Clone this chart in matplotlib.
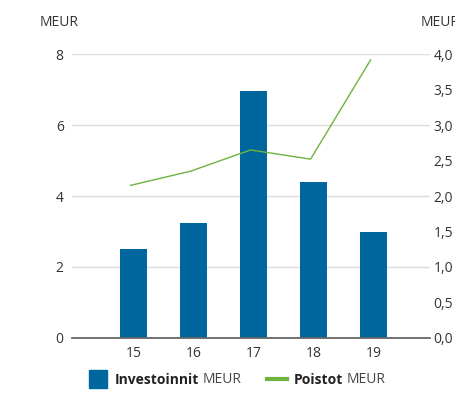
import matplotlib
matplotlib.use("Agg")
import matplotlib.pyplot as plt
from matplotlib.patches import Rectangle
from matplotlib.lines import Line2D
import numpy as np

years = ["15", "16", "17", "18", "19"]
investoinnit = [2.51, 3.25, 6.97, 4.40, 2.97]
poistot = [2.15, 2.35, 2.65, 2.52, 3.92]
left_ticks = [0, 2, 4, 6, 8]
right_ticks = [0.0, 0.5, 1.0, 1.5, 2.0, 2.5, 3.0, 3.5, 4.0]
right_labels = ["0,0", "0,5", "1,0", "1,5", "2,0", "2,5", "3,0", "3,5", "4,0"]
unit = "MEUR"
series_names = ["Investoinnit", "Poistot"]

BLUE = "#00679e"
GREEN = "#6cb33f"
TXT = "#333333"

plt.rcParams['font.family'] = ['Open Sans', 'DejaVu Sans']

W, H = 455, 400
fig = plt.figure(figsize=(W / 100, H / 100), dpi=100)
ax = fig.add_axes([72 / W, 1 - 337.7 / H, (430 - 72) / W, (337.7 - 54.3) / H])

x = np.arange(len(years))
ax.bar(x, investoinnit, width=0.45, color=BLUE, zorder=3)
ax.set_xlim(-1.025, 4.94)
ax.set_ylim(0, 8)
ax.set_yticks(left_ticks)
ax.set_yticklabels([str(t) for t in left_ticks])
ax.set_xticks(x)
ax.set_xticklabels(years)
ax.grid(axis='y', color='#dddddd', linewidth=1.0, zorder=0)
ax.set_axisbelow(True)
for s in ['left', 'right', 'top']:
    ax.spines[s].set_visible(False)
ax.spines['bottom'].set_color('#666666')
ax.spines['bottom'].set_linewidth(1.3)
ax.spines['bottom'].set_zorder(4)
ax.tick_params(axis='both', length=0, labelsize=10, colors=TXT)
ax.tick_params(axis='y', pad=6)
ax.tick_params(axis='x', pad=6)

ax2 = ax.twinx()
ax2.plot(x - 0.05, poistot, color=GREEN, linewidth=1.0, zorder=5)
ax2.set_ylim(0, 4)
ax2.set_yticks(right_ticks)
ax2.set_yticklabels(right_labels)
for s in ['left', 'right', 'top', 'bottom']:
    ax2.spines[s].set_visible(False)
ax2.tick_params(axis='y', length=0, labelsize=10, colors=TXT, pad=2.5)

fig.text(40 / W, 1 - 22 / H, unit, fontsize=10, color=TXT, ha='left', va='center')
fig.text(420.7 / W, 1 - 22 / H, unit, fontsize=10, color=TXT, ha='left', va='center')

# legend
fig.patches.append(Rectangle((89 / W, 1 - 388 / H), 18 / W, 18 / H,
                             transform=fig.transFigure, color=BLUE))
fig.lines.append(Line2D([267 / W, 287 / W], [1 - 379.3 / H, 1 - 379.3 / H],
                        transform=fig.transFigure, color=GREEN, linewidth=3))

fig.canvas.draw()
renderer = fig.canvas.get_renderer()
ly = 1 - 379.5 / H
for name, x0 in [(series_names[0], 114.3), (series_names[1], 293.3)]:
    t = fig.text(x0 / W, ly, name, fontsize=10, fontweight='bold', color='#222222',
                 ha='left', va='center')
    bb = t.get_window_extent(renderer)
    fig.text((bb.x1 + 3.5) / W, ly, unit, fontsize=10, color='#444444',
             ha='left', va='center')

fig.savefig("out.png", dpi=100)
